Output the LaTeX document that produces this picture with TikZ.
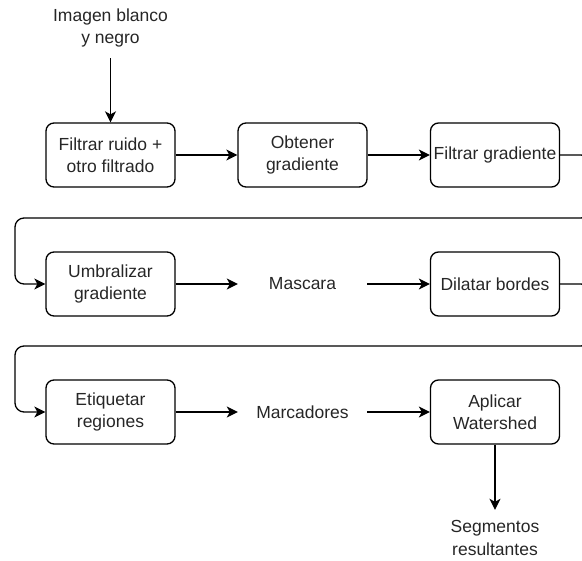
\documentclass[tikz,border=0pt]{standalone}
\usepackage{fontspec}
\setmainfont{Liberation Sans}
\usetikzlibrary{arrows.meta}
\definecolor{txt}{HTML}{262626}
\begin{document}
\begin{tikzpicture}[x=1pt,y=-1pt,
  font=\fontsize{17.5}{22.5}\selectfont, text=txt,
  stepbox/.style={draw, line width=1.3pt, rounded corners=8pt, minimum width=129pt, minimum height=64pt, align=center, inner sep=0pt},
  plain/.style={minimum width=129pt, align=center, inner sep=0pt},
  conn/.style={line width=1.3pt, -{Stealth[length=11pt,width=11pt,inset=3pt]}},
  wrap/.style={conn, rounded corners=9pt}]
\useasboundingbox (0,0) rectangle (582,561);
\clip (0,0) rectangle (582,561);
% row 1
\node[stepbox] (f1) at (110.5,155) {Filtrar ruido +\\otro filtrado};
\node[stepbox] (og) at (302.5,155) {Obtener\\gradiente};
\node[stepbox] (fg) at (495,155) {Filtrar gradiente};
% row 2
\node[stepbox] (ug) at (110.5,284) {Umbralizar\\gradiente};
\node[plain, minimum height=64pt] (ma) at (302.5,284) {Mascara};
\node[stepbox] (db) at (495,284) {Dilatar bordes};
% row 3
\node[stepbox] (er) at (110.5,412) {Etiquetar\\regiones};
\node[plain, minimum height=64pt] (mk) at (302.5,412) {Marcadores};
\node[stepbox] (aw) at (495,412) {Aplicar\\Watershed};
% input and output
\node[plain, minimum height=60pt] (in) at (110.5,28) {Imagen blanco\\y negro};
\node[plain, minimum height=56pt] (out) at (495,538) {Segmentos\\resultantes};
% connectors
\draw[conn] (in.south) -- (f1.north);
\draw[conn] (f1) -- (og);
\draw[conn] (og) -- (fg);
\draw[wrap] (fg.east) -- (590,155) -- (590,218) -- (15,218) -- (15,284) -- (ug.west);
\draw[conn] (ug) -- (ma);
\draw[conn] (ma) -- (db);
\draw[wrap] (db.east) -- (590,284) -- (590,346) -- (15,346) -- (15,412) -- (er.west);
\draw[conn] (er) -- (mk);
\draw[conn] (mk) -- (aw);
\draw[conn] (aw.south) -- (out.north);
\end{tikzpicture}
\end{document}
